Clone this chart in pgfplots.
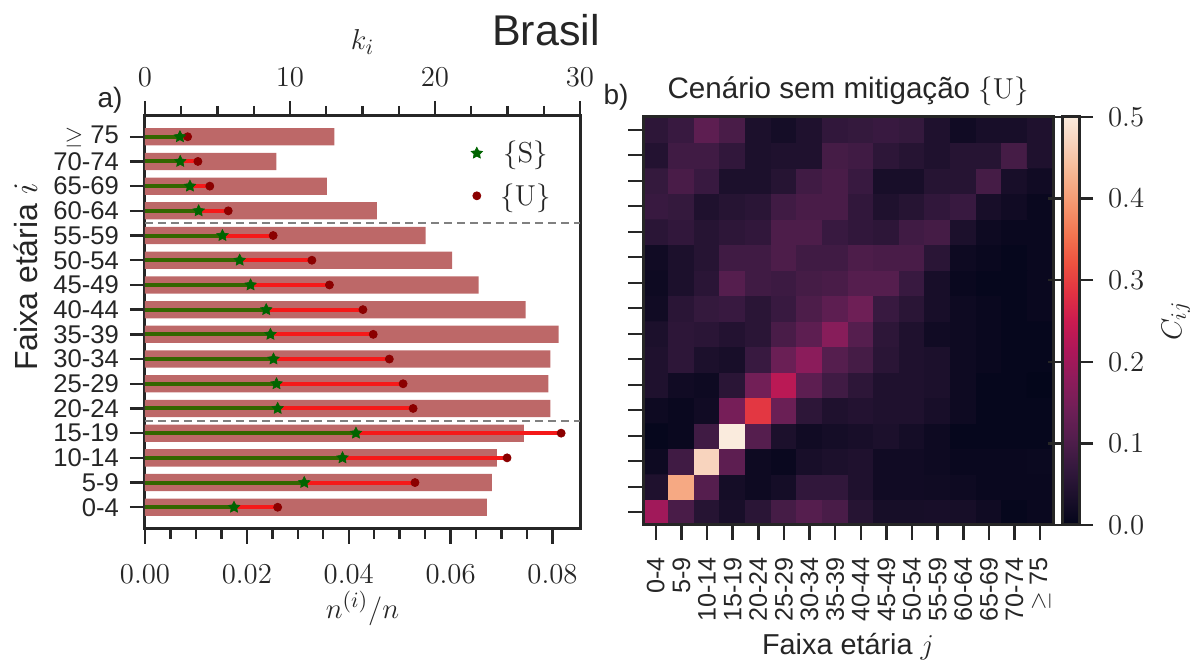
\documentclass[border=0pt]{standalone}
\usepackage[no-math]{fontspec}
\setmainfont{Liberation Sans}
\usepackage{pgfplots}
\pgfplotsset{compat=1.18}
\definecolor{fg}{RGB}{38,38,38}
\definecolor{barcol}{RGB}{189,104,104}
\definecolor{gline}{RGB}{51,102,0}
\definecolor{gmark}{RGB}{0,100,0}
\definecolor{rline}{RGB}{245,25,25}
\definecolor{rmark}{RGB}{139,0,0}
\definecolor{dashcol}{RGB}{128,128,128}
\pgfdeclareplotmark{fstar}{%
  \pgfpathmoveto{\pgfpointpolar{90}{\pgfplotmarksize}}%
  \pgfpathlineto{\pgfpointpolar{126}{0.5\pgfplotmarksize}}%
  \pgfpathlineto{\pgfpointpolar{162}{\pgfplotmarksize}}%
  \pgfpathlineto{\pgfpointpolar{198}{0.5\pgfplotmarksize}}%
  \pgfpathlineto{\pgfpointpolar{234}{\pgfplotmarksize}}%
  \pgfpathlineto{\pgfpointpolar{270}{0.5\pgfplotmarksize}}%
  \pgfpathlineto{\pgfpointpolar{306}{\pgfplotmarksize}}%
  \pgfpathlineto{\pgfpointpolar{342}{0.5\pgfplotmarksize}}%
  \pgfpathlineto{\pgfpointpolar{18}{\pgfplotmarksize}}%
  \pgfpathlineto{\pgfpointpolar{54}{0.5\pgfplotmarksize}}%
  \pgfpathclose\pgfusepathqfillstroke}
\pgfplotsset{
  colormap={rocket}{rgb255=(3,5,26) rgb255=(28,16,44) rgb255=(53,25,62) rgb255=(83,30,77)
    rgb255=(112,31,87) rgb255=(142,28,91) rgb255=(173,23,89) rgb255=(203,27,80)
    rgb255=(225,51,66) rgb255=(238,82,64) rgb255=(243,118,81) rgb255=(245,150,111)
    rgb255=(246,180,143) rgb255=(248,208,184) rgb255=(250,235,221)},
  myframe/.style={axis line style={line width=1.5pt, color=fg},
    every tick/.style={line width=1.2pt, color=fg},
    major tick length=7.5pt, minor tick length=5pt, tick align=outside},
}
\begin{document}
\begin{tikzpicture}
\path[use as bounding box] (0,0) rectangle (595pt,332pt);
% ---------------- left panel: bars ----------------
\begin{axis}[
  myframe,
  at={(72.5pt,67.5pt)}, anchor=south west, scale only axis,
  width=217.5pt, height=206.5pt,
  xmin=0, xmax=0.0854, ymin=-0.88, ymax=15.84,
  xtick={0,0.02,0.04,0.06,0.08}, minor x tick num=3,
  xtick pos=left, ytick pos=left,
  scaled x ticks=false,
  xticklabel shift=7pt, yticklabel shift=2pt,
  xticklabel style={/pgf/number format/fixed, /pgf/number format/fixed zerofill,
    /pgf/number format/precision=2, font=\fontsize{14.4}{16}\selectfont, color=fg},
  ytick={0,...,15},
  yticklabels={0-4,5-9,10-14,15-19,20-24,25-29,30-34,35-39,40-44,45-49,50-54,55-59,60-64,65-69,70-74,$\geq$ 75},
  yticklabel style={font=\fontsize{12.8}{14}\selectfont, color=fg},
  xlabel={$n^{(i)}/n$},
  xlabel style={at={(axis description cs:0.5,-0.192)}, anchor=center, font=\fontsize{15}{17}\selectfont, color=fg},
  ylabel={Faixa etária $i$},
  ylabel style={at={(axis description cs:-0.275,0.61)}, anchor=center, font=\fontsize{16}{18}\selectfont, color=fg},
]
\addplot[xbar, bar width=0.7, fill=barcol, draw=none] coordinates {
 (0.0671,0) (0.0681,1) (0.0691,2) (0.0744,3) (0.0796,4) (0.0792,5) (0.0796,6) (0.0812,7)
 (0.0747,8) (0.0655,9) (0.0603,10) (0.0551,11) (0.0455,12) (0.0357,13) (0.0258,14) (0.0372,15)};
\addplot[dashcol, line width=1pt, dash pattern=on 4pt off 2.5pt] coordinates {(0,3.5) (0.0854,3.5)};
\addplot[dashcol, line width=1pt, dash pattern=on 4pt off 2.5pt] coordinates {(0,11.5) (0.0854,11.5)};
\end{axis}
% ---------------- left panel: k_i ----------------
\begin{axis}[
  myframe,
  at={(72.5pt,67.5pt)}, anchor=south west, scale only axis,
  width=217.5pt, height=206.5pt,
  xmin=0, xmax=30, ymin=-0.88, ymax=15.84,
  axis x line*=top, axis y line=none,
  xtick={0,10,20,30}, minor x tick num=3,
  xticklabel shift=3.5pt,
  xticklabel style={font=\fontsize{14.4}{16}\selectfont, color=fg},
  xlabel={$k_i$},
  xlabel style={at={(axis description cs:0.5,1.179)}, anchor=center, font=\fontsize{15}{17}\selectfont, color=fg},
  legend style={at={(0.735,0.96)}, anchor=north west, draw=none, fill=none,
    font=\fontsize{14.4}{16}\selectfont, row sep=5pt, text=fg},
]
\addplot[xcomb, rline, line width=2pt, forget plot] coordinates {
 (9.15,0) (18.62,1) (24.97,2) (28.70,3) (18.49,4) (17.80,5) (16.85,6) (15.74,7)
 (15.03,8) (12.72,9) (11.51,10) (8.84,11) (5.74,12) (4.47,13) (3.65,14) (2.94,15)};
\addplot[xcomb, gline, line width=2pt, forget plot] coordinates {
 (6.14,0) (10.98,1) (13.62,2) (14.55,3) (9.15,4) (9.07,5) (8.86,6) (8.65,7)
 (8.36,8) (7.28,9) (6.53,10) (5.34,11) (3.70,12) (3.10,13) (2.43,14) (2.41,15)};
\addplot[only marks, mark=*, mark size=2pt, rmark, mark options={fill=rmark, draw=rmark}] coordinates {
 (9.15,0) (18.62,1) (24.97,2) (28.70,3) (18.49,4) (17.80,5) (16.85,6) (15.74,7)
 (15.03,8) (12.72,9) (11.51,10) (8.84,11) (5.74,12) (4.47,13) (3.65,14) (2.94,15)};
\addlegendentry{\hspace{7pt}$\{\mathrm{U}\}$}
\addplot[only marks, mark=fstar, mark size=3pt, gmark, mark options={fill=gmark, draw=gmark, line width=0.3pt}] coordinates {
 (6.14,0) (10.98,1) (13.62,2) (14.55,3) (9.15,4) (9.07,5) (8.86,6) (8.65,7)
 (8.36,8) (7.28,9) (6.53,10) (5.34,11) (3.70,12) (3.10,13) (2.43,14) (2.41,15)};
\addlegendentry{\hspace{7pt}$\{\mathrm{S}\}$}
\pgfplotsset{reverse legend}
\end{axis}
% ---------------- right panel: heatmap ----------------
\begin{axis}[
  myframe,
  at={(321.5pt,69.5pt)}, anchor=south west, scale only axis,
  width=205pt, height=204pt,
  xmin=-0.5, xmax=15.5, ymin=-0.5, ymax=15.5,
  axis on top,
  colormap name=rocket, point meta min=0, point meta max=0.5,
  xtick={0,...,15}, ytick={0,...,15},
  xtick pos=left, ytick pos=left,
  xticklabels={0-4,5-9,10-14,15-19,20-24,25-29,30-34,35-39,40-44,45-49,50-54,55-59,60-64,65-69,70-74,$\geq$ 75},
  yticklabels={},
  xticklabel shift=5pt,
  xticklabel style={rotate=90, anchor=east, font=\fontsize{12.6}{14}\selectfont, color=fg},
  major tick length=7.5pt,
  xlabel={Faixa etária $j$},
  xlabel style={at={(axis description cs:0.5,-0.298)}, anchor=center, font=\fontsize{14.4}{16}\selectfont, color=fg},
  title={Cenário sem mitigação $\{\mathrm{U}\}$},
  title style={at={(axis description cs:0.5,1.034)}, anchor=center, font=\fontsize{14.8}{17}\selectfont, color=fg},
  colorbar,
  colorbar style={at={(parent axis.north east)}, anchor=north west, xshift=-4pt,
    scale only axis, width=8.5pt, height=204pt,
    axis line style={line width=1.5pt, color=fg},
    every tick/.style={line width=1.2pt, color=fg}, major tick length=7pt, tick align=outside,
    ytick={0,0.1,0.2,0.3,0.4,0.5},
    yticklabel shift=4pt,
    yticklabel style={/pgf/number format/fixed, /pgf/number format/fixed zerofill,
      /pgf/number format/precision=1, font=\fontsize{14.4}{16}\selectfont, color=fg},
    ylabel={$C_{ij}$},
    ylabel style={at={(axis description cs:6.7,0.5)}, anchor=center, font=\fontsize{15}{17}\selectfont, color=fg},
  },
]
\addplot[matrix plot*, mesh/cols=16, mesh/rows=16, point meta=explicit] coordinates {
(0,0)[0.20] (1,0)[0.095] (2,0)[0.05] (3,0)[0.03] (4,0)[0.055] (5,0)[0.09] (6,0)[0.11] (7,0)[0.095] (8,0)[0.05] (9,0)[0.028] (10,0)[0.028] (11,0)[0.03] (12,0)[0.028] (13,0)[0.018] (14,0)[0.005] (15,0)[0.01]
(0,1)[0.04] (1,1)[0.415] (2,1)[0.11] (3,1)[0.025] (4,1)[0.015] (5,1)[0.025] (6,1)[0.065] (7,1)[0.065] (8,1)[0.04] (9,1)[0.02] (10,1)[0.02] (11,1)[0.018] (12,1)[0.015] (13,1)[0.01] (14,1)[0.01] (15,1)[0.01]
(0,2)[0.015] (1,2)[0.085] (2,2)[0.47] (3,2)[0.12] (4,2)[0.015] (5,2)[0.01] (6,2)[0.03] (7,2)[0.035] (8,2)[0.04] (9,2)[0.02] (10,2)[0.02] (11,2)[0.015] (12,2)[0.01] (13,2)[0.01] (14,2)[0.01] (15,2)[0.012]
(0,3)[0.005] (1,3)[0.01] (2,3)[0.085] (3,3)[0.50] (4,3)[0.11] (5,3)[0.035] (6,3)[0.02] (7,3)[0.025] (8,3)[0.03] (9,3)[0.035] (10,3)[0.025] (11,3)[0.015] (12,3)[0.005] (13,3)[0.005] (14,3)[0.005] (15,3)[0.005]
(0,4)[0.015] (1,4)[0.01] (2,4)[0.02] (3,4)[0.15] (4,4)[0.29] (5,4)[0.135] (6,4)[0.06] (7,4)[0.04] (8,4)[0.045] (9,4)[0.04] (10,4)[0.04] (11,4)[0.03] (12,4)[0.015] (13,4)[0.005] (14,4)[0.005] (15,4)[0.005]
(0,5)[0.04] (1,5)[0.02] (2,5)[0.015] (3,5)[0.055] (4,5)[0.145] (5,5)[0.23] (6,5)[0.12] (7,5)[0.085] (8,5)[0.06] (9,5)[0.04] (10,5)[0.04] (11,5)[0.035] (12,5)[0.015] (13,5)[0.005] (14,5)[0.005] (15,5)[0.002]
(0,6)[0.04] (1,6)[0.06] (2,6)[0.035] (3,6)[0.03] (4,6)[0.075] (5,6)[0.135] (6,6)[0.175] (7,6)[0.11] (8,6)[0.09] (9,6)[0.055] (10,6)[0.04] (11,6)[0.035] (12,6)[0.015] (13,6)[0.01] (14,6)[0.005] (15,6)[0.005]
(0,7)[0.035] (1,7)[0.06] (2,7)[0.055] (3,7)[0.045] (4,7)[0.055] (5,7)[0.095] (6,7)[0.12] (7,7)[0.17] (8,7)[0.11] (9,7)[0.06] (10,7)[0.04] (11,7)[0.02] (12,7)[0.015] (13,7)[0.01] (14,7)[0.005] (15,7)[0.005]
(0,8)[0.02] (1,8)[0.055] (2,8)[0.07] (3,8)[0.075] (4,8)[0.055] (5,8)[0.075] (6,8)[0.10] (7,8)[0.12] (8,8)[0.14] (9,8)[0.075] (10,8)[0.055] (11,8)[0.03] (12,8)[0.015] (13,8)[0.01] (14,8)[0.005] (15,8)[0.01]
(0,9)[0.015] (1,9)[0.035] (2,9)[0.055] (3,9)[0.11] (4,9)[0.085] (5,9)[0.08] (6,9)[0.09] (7,9)[0.095] (8,9)[0.11] (9,9)[0.11] (10,9)[0.075] (11,9)[0.03] (12,9)[0.01] (13,9)[0.005] (14,9)[0.005] (15,9)[0.01]
(0,10)[0.02] (1,10)[0.035] (2,10)[0.05] (3,10)[0.085] (4,10)[0.085] (5,10)[0.10] (6,10)[0.085] (7,10)[0.085] (8,10)[0.10] (9,10)[0.095] (10,10)[0.095] (11,10)[0.055] (12,10)[0.015] (13,10)[0.01] (14,10)[0.005] (15,10)[0.01]
(0,11)[0.055] (1,11)[0.065] (2,11)[0.05] (3,11)[0.06] (4,11)[0.065] (5,11)[0.10] (6,11)[0.10] (7,11)[0.075] (8,11)[0.065] (9,11)[0.06] (10,11)[0.085] (11,11)[0.09] (12,11)[0.035] (13,11)[0.015] (14,11)[0.01] (15,11)[0.01]
(0,12)[0.075] (1,12)[0.07] (2,12)[0.04] (3,12)[0.05] (4,12)[0.055] (5,12)[0.085] (6,12)[0.095] (7,12)[0.095] (8,12)[0.065] (9,12)[0.04] (10,12)[0.05] (11,12)[0.065] (12,12)[0.075] (13,12)[0.03] (14,12)[0.02] (15,12)[0.01]
(0,13)[0.07] (1,13)[0.095] (2,13)[0.075] (3,13)[0.035] (4,13)[0.035] (5,13)[0.05] (6,13)[0.085] (7,13)[0.095] (8,13)[0.075] (9,13)[0.03] (10,13)[0.03] (11,13)[0.05] (12,13)[0.05] (13,13)[0.09] (14,13)[0.03] (15,13)[0.02]
(0,14)[0.045] (1,14)[0.085] (2,14)[0.085] (3,14)[0.065] (4,14)[0.035] (5,14)[0.04] (6,14)[0.04] (7,14)[0.09] (8,14)[0.085] (9,14)[0.06] (10,14)[0.05] (11,14)[0.04] (12,14)[0.05] (13,14)[0.05] (14,14)[0.09] (15,14)[0.04]
(0,15)[0.06] (1,15)[0.075] (2,15)[0.12] (3,15)[0.095] (4,15)[0.035] (5,15)[0.025] (6,15)[0.04] (7,15)[0.065] (8,15)[0.07] (9,15)[0.075] (10,15)[0.07] (11,15)[0.04] (12,15)[0.02] (13,15)[0.03] (14,15)[0.03] (15,15)[0.04]
};
\end{axis}
% ---------------- texts ----------------
\node[font=\fontsize{21.5}{24}\selectfont, text=fg] at (273pt,317pt) {Brasil};
\node[font=\fontsize{14}{16}\selectfont, text=fg] at (55pt,282pt) {a)};
\node[font=\fontsize{14}{16}\selectfont, text=fg] at (308pt,283.5pt) {b)};
\end{tikzpicture}
\end{document}
